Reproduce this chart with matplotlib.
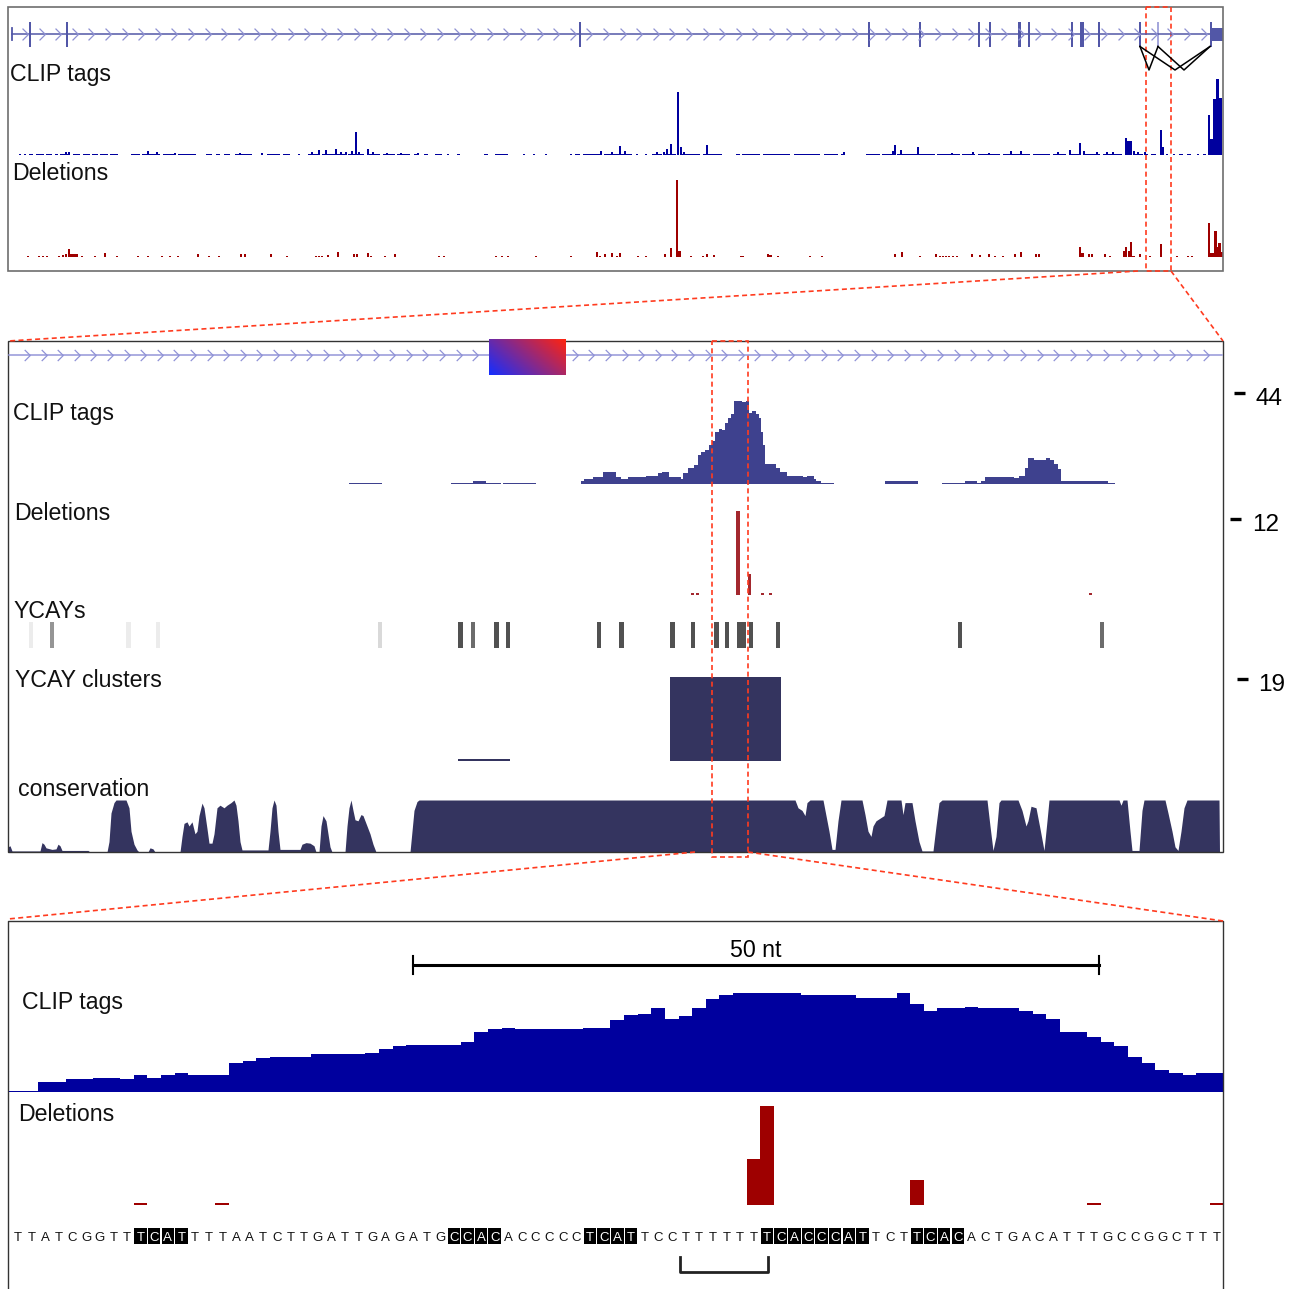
import numpy as np
import matplotlib
matplotlib.use("Agg")
import matplotlib.pyplot as plt
from matplotlib.patches import Rectangle
from matplotlib.path import Path

plt.rcParams['font.family'] = ['Liberation Sans', 'DejaVu Sans']

W, H = 1296, 1289

# ------------------------------------------------------------
# Data. Top and middle panels use window units along x,
# the bottom panel uses nucleotide index.
# ------------------------------------------------------------

# top panel: gene model
top_exon_mid = [30, 66.5, 580, 869, 919.5, 979, 990, 1019.5, 1029, 1072, 1081.5, 1099, 1140, 1158]
top_exon_len = [2, 2, 2, 2, 2, 2, 2, 3.5, 2, 2, 4, 2, 2, 2]
top_last_exon = (1210, 1223)
top_junctions = [(1140, 1158), (1140, 1210), (1158, 1210)]

# top panel: low CLIP coverage stretches
top_clip_span_start = [19, 24, 29, 36, 46, 55, 60, 73, 83, 92, 100, 110, 131, 142, 163, 178, 206, 216,
                       224, 235, 267, 283, 298, 308, 322, 348, 368, 383, 397, 414, 424, 435, 447, 457,
                       484, 495, 523, 533, 545, 570, 575, 583, 604, 636, 645, 652, 665, 680, 703, 708,
                       736, 742, 763, 794, 824, 841, 866, 882, 897, 937, 962, 978, 1003, 1033, 1053,
                       1069, 1083, 1103, 1134, 1146, 1151, 1166, 1173, 1179, 1187, 1197, 1203]
top_clip_span_end = [21, 26, 33, 44, 52, 58, 70, 80, 90, 98, 108, 118, 140, 160, 176, 196, 212, 220,
                     230, 252, 280, 290, 300, 320, 345, 364, 380, 395, 410, 418, 428, 442, 449, 460,
                     488, 508, 525, 535, 547, 572, 580, 600, 632, 638, 647, 662, 676, 700, 706, 722,
                     740, 760, 790, 820, 838, 845, 880, 893, 935, 960, 975, 1000, 1030, 1050, 1066,
                     1080, 1100, 1122, 1143, 1148, 1156, 1168, 1175, 1183, 1191, 1199, 1206]
# top panel: CLIP peaks
top_clip_x = [66, 69, 148, 157, 175, 240, 262, 312, 319, 326, 336, 341, 346, 352, 356, 359, 368, 373,
              387, 401, 418, 601, 612, 620, 625, 657, 664, 667, 671, 678, 681, 684, 707, 844, 893,
              895, 901, 918, 952, 973, 989, 1011, 1021, 1058, 1070, 1080, 1084, 1097, 1107, 1113,
              1126, 1128.2, 1130.4, 1134, 1138, 1145, 1161, 1163.2, 1209, 1211.5, 1214.5, 1217.5, 1220.5]
top_clip_h = [3, 3, 4, 3, 2, 2, 2, 3, 5, 5, 6, 3, 3, 4, 23, 3, 6, 3,
              2, 2, 2, 4, 3, 9, 4, 3, 3, 6, 11, 63, 8, 3, 10, 3, 4,
              10, 5, 8, 2, 3, 2, 4, 4, 3, 5, 12, 4, 3, 3, 3,
              17, 14, 14, 4, 3, 3, 25, 8, 40, 16, 56, 76, 57]
# top panel: deletions
top_del_x = [28, 39, 43, 47, 59, 63, 66, 69, 71.5, 74, 76.5, 82, 95, 105, 117, 138, 148, 162, 170, 178,
             198, 209, 219, 241, 245, 271, 287, 316, 319, 322, 328, 338, 354, 357, 368, 371, 385, 395,
             439, 444, 496, 502, 508, 536, 571, 597, 600, 605, 612, 617, 620, 638, 646, 665, 671, 677,
             679.5, 691, 703, 707, 714, 741, 743, 768, 770.5, 778, 810, 822, 895, 902, 920, 936, 940,
             943, 946, 949, 953, 957, 972, 980, 989, 995, 1003, 1015, 1021, 1036, 1039, 1080, 1082.5,
             1089, 1092, 1105, 1110, 1124, 1126.3, 1128.6, 1131, 1133.5, 1140, 1150, 1161, 1177, 1188,
             1192, 1209, 1211.5, 1213.5, 1215.5, 1217.5, 1219.5, 1221.5]
top_del_h = [1.5, 1.5, 1.5, 1.5, 1.5, 2, 3, 8, 3, 3, 3, 1.5, 1.5, 4, 1.5, 1.5, 1.5, 1.5, 1.5, 1.5,
             3, 1.5, 1.5, 3, 3, 3, 1.5, 1.5, 1.5, 1.5, 2, 5, 3, 3, 4, 1.5, 1.5, 3,
             1.5, 1.5, 1.5, 1.5, 1.5, 1.5, 1.5, 5, 1.5, 3, 4, 1.5, 4, 1.5, 1.5, 3, 9, 77,
             6, 1.5, 1.5, 3, 2, 1.5, 1.5, 3, 2, 1.5, 1.5, 1.5, 3, 5, 1.5, 3, 1.5,
             1.5, 1.5, 1.5, 1.5, 1.5, 3, 2, 3, 1.5, 1.5, 3, 5, 3.5, 3.5, 10, 4,
             3, 3, 3, 1.5, 6, 10, 6, 15, 1.5, 3, 1.5, 13, 1.5, 1.5,
             1.5, 34, 4, 4, 26, 10, 14, 5]

# middle panel: CLIP tag coverage (start, end, count)
mid_clip_start = [349, 451, 473, 486, 503, 581, 584, 593, 603, 616, 621, 628, 646, 658, 662, 669, 681,
                  683, 688, 694, 698, 701, 705, 709, 712, 715, 719, 722, 725, 728, 731, 734, 742, 746,
                  749, 752, 756, 759, 761, 763, 765, 767, 776, 780, 787, 803, 807, 814, 816, 821,
                  885, 942, 965, 977, 981, 985, 1014, 1019, 1025, 1028, 1034, 1046, 1050, 1054,
                  1058, 1061, 1108]
mid_clip_end = [382, 473, 486, 501, 536, 584, 593, 603, 616, 621, 628, 646, 658, 662, 669, 681, 683,
                688, 694, 698, 701, 705, 709, 712, 715, 719, 722, 725, 728, 731, 734, 742, 746, 749,
                752, 756, 759, 761, 763, 765, 767, 776, 780, 787, 803, 807, 814, 816, 821, 834,
                918, 965, 977, 981, 985, 1014, 1019, 1025, 1028, 1034, 1046, 1050, 1054, 1058,
                1061, 1108, 1115]
mid_clip_count = [0.7, 0.7, 1.6, 0.7, 0.7, 1.3, 2.6, 3.5, 5.9, 3.5, 2.6, 3.5, 4.0, 5.5, 5.9, 3.5, 2.6,
                  5.5, 7.6, 9.2, 14.0, 15.6, 16.6, 19.0, 20.6, 25.1, 26.6, 26.0, 29.5, 31.8, 34.0, 40.1,
                  39.5, 40.3, 34.2, 35.4, 34.0, 32.0, 25.0, 19.0, 9.7, 9.5, 7.9, 5.9, 4.0, 3.5, 4.0,
                  2.6, 1.6, 0.6, 1.6, 0.6, 1.6, 0.6, 1.6, 3.5, 3.0, 4.0, 7.7, 12.7, 11.7, 12.7, 11.7,
                  9.8, 7.3, 1.6, 0.6]
# middle panel: deletions
mid_del_start = [691, 696, 736, 748, 761, 769, 1089]
mid_del_end = [694, 699, 740, 750.5, 764, 772, 1092]
mid_del_count = [0.3, 0.3, 13.3, 3.3, 0.3, 0.3, 0.3]
# middle panel: YCAY motifs and their scores
ycay_pos = [31, 52, 128.6, 158, 380, 460.6, 473, 496.7, 508, 598.8, 621.6, 672.7, 693, 716.7, 727,
            739.5, 743.5, 751, 778, 960, 1102]
ycay_score = [0.15, 0.5, 0.15, 0.15, 0.25, 0.75, 0.65, 0.75, 0.75, 0.75, 0.75, 0.75, 0.75, 0.75, 0.75,
              0.75, 0.75, 0.75, 0.75, 0.75, 0.65]
# middle panel: YCAY clusters
cluster_start = [458, 670]
cluster_end = [510, 781]
cluster_score = [0.5, 19.5]
# middle panel: conservation profile
cons_pos = [8, 10, 12, 40, 42, 44, 46, 52, 56, 58, 60, 62, 88, 90, 107, 109, 111, 114, 116, 126,
            129, 131, 134, 137, 139, 148, 150, 153, 155, 180, 182, 184, 187, 189, 192, 195, 197,
            199, 202, 204, 207, 209, 212, 214, 217, 220, 224, 227, 231, 234, 236, 238, 240, 242,
            268, 270, 272, 274, 276, 278, 280, 300, 302, 306, 310, 314, 316, 319, 321, 323, 326,
            328, 330, 332, 345, 347, 349, 351, 353, 355, 358, 361, 363, 366, 370, 373, 376, 410,
            412, 414, 417, 419, 795, 798, 802, 805, 807, 810, 823, 826, 829, 832, 835, 838, 841,
            862, 865, 868, 871, 873, 876, 880, 884, 887, 901, 903, 905, 912, 915, 919, 922, 933,
            936, 939, 942, 987, 990, 993, 996, 999, 1001, 1018, 1022, 1026, 1028, 1031, 1036, 1040,
            1044, 1047, 1049, 1119, 1121, 1123, 1127, 1130, 1132, 1139, 1142, 1144, 1165, 1168,
            1172, 1175, 1178, 1181, 1184, 1187, 1219, 1219.5]
cons_score = [0.1, 0.12, 0.02, 0.02, 0.18, 0.15, 0.08, 0.05, 0.06, 0.15, 0.12, 0.03, 0.03, 0.0, 0.0,
              0.2, 0.75, 0.95, 1.0, 1.0, 0.85, 0.4, 0.15, 0.04, 0.0, 0.0, 0.08, 0.06, 0.0, 0.0, 0.3,
              0.55, 0.58, 0.5, 0.58, 0.35, 0.4, 0.7, 0.94, 0.85, 0.45, 0.17, 0.17, 0.35, 0.85, 0.9,
              0.85, 0.9, 0.95, 1.0, 0.9, 0.6, 0.2, 0.04, 0.04, 0.4, 0.85, 1.0, 0.9, 0.4, 0.05, 0.05,
              0.15, 0.18, 0.17, 0.12, 0.0, 0.0, 0.5, 0.7, 0.6, 0.35, 0.1, 0.0, 0.0, 0.5, 0.85, 1.0,
              0.8, 0.62, 0.6, 0.72, 0.7, 0.55, 0.35, 0.15, 0.0, 0.0, 0.4, 0.8, 0.97, 1.0, 1.0, 0.85,
              0.8, 0.7, 0.95, 1.0, 1.0, 0.7, 0.4, 0.05, 0.05, 0.6, 1.0, 1.0, 0.72, 0.4, 0.3, 0.5,
              0.6, 0.65, 0.7, 1.0, 1.0, 0.72, 0.95, 0.95, 0.6, 0.2, 0.02, 0.02, 0.5, 0.95, 1.0, 1.0,
              0.5, 0.03, 0.3, 0.95, 1.0, 1.0, 0.8, 0.5, 0.6, 0.88, 0.85, 0.45, 0.03, 0.6, 1.0, 1.0,
              0.9, 1.0, 1.0, 0.4, 0.03, 0.03, 0.8, 1.0, 1.0, 0.75, 0.4, 0.1, 0.03, 0.4, 0.85, 1.0,
              1.0, 0.0]

# bottom panel: nucleotide resolution
sequence = ("TTATCGGTT" "TCAT" "TTTAATCTTGATTGAGATG" "CCAC" "ACCCCC" "TCAT" "T" "CC" "TTTTTT"
            "TCACCCAT" "TCT" "TCAC" "ACTGACATTTGCCGGCTTT")
ycay_sites = [(9, 12), (32, 35), (42, 45), (55, 62), (66, 69)]
# CLIP coverage for nucleotides -1 .. 89
nt_clip = [1, 1, 1, 10, 10, 13, 13, 14, 14, 13, 17, 14, 17, 19, 17, 17, 17, 29, 31, 34, 35, 35, 35,
           38, 38, 38, 38, 39, 43, 46, 47, 47, 47, 47, 50, 60, 63, 64, 63, 63, 63, 63, 63, 64, 64,
           72, 77, 78, 84, 73, 76, 84, 93, 97, 99, 99, 99, 99, 99, 97, 97, 97, 97, 94, 94, 94, 99,
           88, 81, 84, 84, 85, 84, 84, 84, 81, 78, 73, 60, 60, 55, 50, 46, 35, 29, 22, 19, 17, 19,
           19, 19]
nt_del_pos = [9, 15, 54, 55, 66, 79, 88]
nt_del_count = [0.25, 0.25, 5.6, 12, 3, 0.25, 0.25]
scale_bar = (29.0, 79.4)
bracket = (48.6, 55.1)

# ------------------------------------------------------------
fig = plt.figure(figsize=(W / 100, H / 100), dpi=100)

NAVY = '#00009E'
DARKRED = '#9E0000'
SLATE = '#3E418E'
DEL2 = '#A3282E'
INK = '#34345F'
RED = '#FF3B1F'
FS = 16.7


def px_axes(x0, y0, x1, y1, xlim, ylim):
    ax = fig.add_axes([x0 / W, 1 - y1 / H, (x1 - x0) / W, (y1 - y0) / H])
    ax.set_xlim(*xlim)
    ax.set_ylim(*ylim)
    ax.axis('off')
    return ax


def track(base, top, per_unit, xlim=(8, 1223)):
    # value axis with given pixels per unit above a pixel baseline
    return px_axes(8, top, 1223, base, xlim, (0, (base - top) / per_unit))


chevron = Path([(-0.5, 1), (0.5, 0), (-0.5, -1)], [Path.MOVETO, Path.LINETO, Path.LINETO])

# ---------------- top panel ----------------
ax = track(155, 79, 1.0)
ax.bar(top_clip_span_start, [1.5] * len(top_clip_span_start),
       width=np.subtract(top_clip_span_end, top_clip_span_start), align='edge',
       color=NAVY, linewidth=0)
ax.bar(top_clip_x, top_clip_h, width=2.3, color=NAVY, linewidth=0)

ax = track(257, 178, 1.0)
ax.bar(top_del_x, top_del_h, width=2.2, color=DARKRED, linewidth=0)

# ---------------- middle panel ----------------
ax = track(484, 390, 91 / 44)
ax.bar(mid_clip_start, mid_clip_count, width=np.subtract(mid_clip_end, mid_clip_start),
       align='edge', color=SLATE, linewidth=0, antialiased=False)
ax.plot([1234, 1245], [44, 44], color='black', lw=2.4, clip_on=False, solid_capstyle='butt')
ax.annotate('44', xy=(1255, 44), xytext=(0, -4), textcoords='offset points', va='center',
            fontsize=17.5, annotation_clip=False)

ax = track(595, 505, 76 / 12)
ax.bar(mid_del_start, mid_del_count, width=np.subtract(mid_del_end, mid_del_start),
       align='edge', color=DEL2, linewidth=0, antialiased=False)
ax.plot([1230, 1241], [12, 12], color='black', lw=2.4, clip_on=False, solid_capstyle='butt')
ax.annotate('12', xy=(1252, 12), xytext=(0, -4), textcoords='offset points', va='center',
            fontsize=17.5, annotation_clip=False)

ax = px_axes(8, 622, 1223, 648, (8, 1223), (0, 1))
ax.bar(ycay_pos, 1, width=4.5, color=plt.cm.Greys(ycay_score), linewidth=0, align='center')

ax = track(761, 672, 82 / 19)
ax.bar(cluster_start, cluster_score, width=np.subtract(cluster_end, cluster_start),
       align='edge', color=INK, linewidth=0)
ax.plot([1237, 1248], [19, 19], color='black', lw=2.4, clip_on=False, solid_capstyle='butt')
ax.annotate('19', xy=(1258, 19), xytext=(0, -4), textcoords='offset points', va='center',
            fontsize=17.5, annotation_clip=False)

ax = px_axes(8, 800, 1223, 852, (8, 1223), (0, 1))
ax.fill_between(cons_pos, cons_score, 0, color=INK, linewidth=0)

# ---------------- bottom panel ----------------
nt_lim = (-0.734, 88.47)
ax = px_axes(8, 992, 1223, 1092, nt_lim, (0, 100))
ax.stairs(nt_clip, np.arange(-1.5, 90.5), fill=True, color=NAVY, baseline=0)

ax = px_axes(8, 1100, 1223, 1205, nt_lim, (0, 12 * 105 / 99))
ax.bar(nt_del_pos, nt_del_count, width=1.0, color=DARKRED, linewidth=0)

seq = px_axes(8, 921, 1223, 1289, nt_lim, (1289, 921))
hi = set()
for a, b in ycay_sites:
    hi.update(range(a, b + 1))
for i, ch in enumerate(sequence):
    if i in hi:
        seq.add_patch(Rectangle((i - 0.46, 1228), 0.92, 16, color='black', linewidth=0))
    seq.text(i, 1241, ch, ha='center', va='baseline', fontsize=9.5,
             color='white' if i in hi else '#111111')
x0, x1 = scale_bar
seq.plot([x0, x1], [965, 965], color='black', lw=2.2)
seq.plot([x0, x0], [956, 974], color='black', lw=1.5)
seq.plot([x1, x1], [956, 974], color='black', lw=1.5)
seq.text((x0 + x1) / 2, 957, '50 nt', ha='center', va='baseline', fontsize=FS)
b0, b1 = bracket
seq.plot([b0, b0, b1, b1], [1257, 1272, 1272, 1257], color='#222222', lw=2)

# ---------------- overlay: frames, gene models, labels ----------------
ov = fig.add_axes([0, 0, 1, 1])
ov.set_zorder(10)
ov.axis('off')

# top gene model
GENE = '#5257A7'
ov.plot([12, top_last_exon[0]], [34, 34], color=GENE, lw=1.1)
ov.plot([11.6, 11.6], [28, 40], color=GENE, lw=1.3)
top_chev = np.arange(24.9, 1205, 16.6)
ov.plot(top_chev, np.full(len(top_chev), 34), ls='none', marker=chevron, ms=8.5,
        mfc='none', mec='#8E91D2', mew=0.9)
for i, (m, w) in enumerate(zip(top_exon_mid, top_exon_len)):
    col = '#A5A7DC' if m == 1158 else GENE
    ov.add_patch(Rectangle((m - w / 2, 22), w, 25, color=col, linewidth=0))
ov.add_patch(Rectangle((top_last_exon[0], 27.5), top_last_exon[1] - top_last_exon[0], 13.5,
                       color=GENE, linewidth=0))
ov.add_patch(Rectangle((top_last_exon[0], 22), 1.6, 25, color=GENE, linewidth=0))
for d, a in top_junctions:
    ov.plot([d, (d + a) / 2, a], [46.5, 70, 46.5], color='black', lw=1.1)

# middle gene model with the alternative exon
ov.plot([9, 1222], [355, 355], color='#9496D8', lw=1.1)
mid_chev = np.arange(27, 1215, 16.6)
ov.plot(mid_chev, np.full(len(mid_chev), 355), ls='none', marker=chevron, ms=8,
        mfc='none', mec='#8F92D6', mew=0.9)
n = 64
gx, gy = np.meshgrid(np.linspace(0, 1, n), np.linspace(1, 0, n // 2))
t = np.clip(0.65 * gx + 0.35 * gy, 0, 1)[..., None]
blue = np.array([0.08, 0.18, 1.0])
red = np.array([1.0, 0.14, 0.06])
ov.imshow(blue * (1 - t) + red * t, extent=(489, 566, 375, 339), aspect='auto',
          interpolation='bilinear', zorder=3)

# labels
for x, y, s in [(10, 81, 'CLIP tags'), (12, 180, 'Deletions'),
                (13, 420, 'CLIP tags'), (14, 520, 'Deletions'), (14, 618, 'YCAYs'),
                (15, 687, 'YCAY clusters'), (18, 796, 'conservation'),
                (22, 1009, 'CLIP tags'), (18, 1121, 'Deletions')]:
    ov.text(x, y, s, ha='left', va='baseline', fontsize=FS, color='#111111')

# panel frames
ov.add_patch(Rectangle((8, 7), 1215, 264, fill=False, edgecolor='#6E6E6E', lw=1.2))
ov.add_patch(Rectangle((8, 341), 1215, 511, fill=False, edgecolor='#333333', lw=1.0))
ov.plot([8, 8, 1223, 1223], [1289, 921, 921, 1289], color='#333333', lw=1.0)

# zoom indicators
dash = dict(color=RED, lw=1.2, ls=(0, (3, 2)))
ov.add_patch(Rectangle((1146, 7), 25, 264, fill=False, edgecolor=RED, lw=1.2, ls=(0, (3, 2))))
ov.plot([1138, 8], [271, 341], **dash)
ov.plot([1171, 1223], [271, 341], **dash)
ov.add_patch(Rectangle((712, 341), 36, 516, fill=False, edgecolor=RED, lw=1.2, ls=(0, (3, 2))))
ov.plot([695, 8], [852, 919], **dash)
ov.plot([748, 1223], [852, 921], **dash)

ov.set_xlim(0, W)
ov.set_ylim(H, 0)

fig.savefig('out.png', dpi=100)
